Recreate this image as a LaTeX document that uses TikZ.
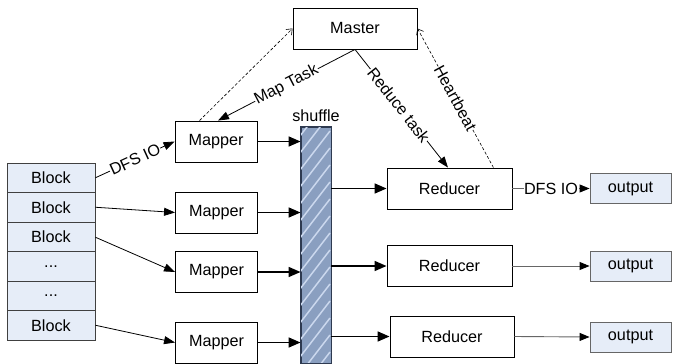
\documentclass[tikz,border=0pt]{standalone}
\usepackage{fontspec}
\setmainfont{Liberation Sans}
\usetikzlibrary{arrows.meta}
\definecolor{boxfill}{HTML}{E6EDF8}
\definecolor{shufbase}{HTML}{8A9FC0}
\definecolor{shufstripe}{HTML}{CBD8EE}
\definecolor{shufedge}{HTML}{2E3A50}
\tikzset{
  txt/.style={font=\fontsize{16.2}{19}\selectfont},
  procbox/.style={draw=black, line width=0.9pt, fill=white, txt, inner sep=0pt},
  blockcell/.style={draw=black!75, line width=0.9pt, fill=boxfill, txt, inner sep=0pt, minimum width=88pt, minimum height=29.5pt},
  outbox/.style={draw=black!60, line width=0.9pt, fill=boxfill, txt, inner sep=0pt, minimum width=81pt, minimum height=30pt},
  thickarr/.style={line width=1.6pt, -{Triangle[length=12pt,width=10pt]}},
  thinarr/.style={line width=0.8pt, -{Triangle[length=11pt,width=8pt]}},
  greyarr/.style={draw=black!60, line width=0.9pt, -{Triangle[length=10pt,width=8pt,fill=black,color=black]}},
  dasharr/.style={dashed, dash pattern=on 3pt off 2pt, line width=0.6pt, -{Straight Barb[length=5pt,width=8pt]}},
  lbl/.style={txt, fill=white, inner sep=0.5pt, sloped},
}
\begin{document}
\begin{tikzpicture}[x=1pt,y=-1pt]
\useasboundingbox (0,0) rectangle (675,364);
% master
\node[procbox, minimum width=124pt, minimum height=41pt] (master) at (355,28.5) {Master};
% mappers
\node[procbox, minimum width=82pt, minimum height=41pt] (m1) at (216,141.5) {Mapper};
\node[procbox, minimum width=82pt, minimum height=41pt] (m2) at (216.5,212.5) {Mapper};
\node[procbox, minimum width=82pt, minimum height=41pt] (m3) at (216.5,272) {Mapper};
\node[procbox, minimum width=82pt, minimum height=41pt] (m4) at (216.5,342.5) {Mapper};
% reducers
\node[procbox, minimum width=125pt, minimum height=41pt] (r1) at (449.5,188.5) {Reducer};
\node[procbox, minimum width=125pt, minimum height=41pt] (r2) at (449.5,266) {Reducer};
\node[procbox, minimum width=124pt, minimum height=41pt] (r3) at (452,336.5) {Reducer};
% outputs
\node[outbox] (o1) at (630.5,188.5) {output};
\node[outbox] (o2) at (630.5,266) {output};
\node[outbox] (o3) at (630.5,337) {output};
% blocks
\node[blockcell] (b1) at (51,177.75) {Block};
\node[blockcell] (b2) at (51,207.25) {Block};
\node[blockcell] (b3) at (51,236.75) {Block};
\node[blockcell] (b4) at (51,266.25) {...};
\node[blockcell] (b5) at (51,295.75) {...};
\node[blockcell] (b6) at (51,325.25) {Block};
% shuffle bar
\node[draw=shufedge, line width=0.9pt, fill=shufbase, minimum width=30pt, minimum height=236pt, inner sep=0pt] (sh) at (316,245) {};
\begin{scope}
  \clip (sh.north west) rectangle (sh.south east);
  \foreach \k in {0,...,18} {
    \draw[shufstripe, line width=1.5pt] (290,132+\k*17) -- ++(40,-52);
  }
\end{scope}
\draw[shufedge, line width=0.9pt] (sh.north west) rectangle (sh.south east);
\node[txt, above=1pt] (shl) at (sh.north) {shuffle};
% block -> mapper
\draw[thinarr] (b1.east) -- node[lbl] {DFS IO} (m1.west);
\draw[thinarr] (b2.east) -- (m2.west);
\draw[thinarr] ([yshift=-0.5pt]b3.east) -- (m3.west);
\draw[thinarr] (b6.east) -- (m4.west);
% mapper -> shuffle
\draw[thickarr] (m1.east) -- (m1.east -| sh.west);
\draw[thickarr] (m2.east) -- (m2.east -| sh.west);
\draw[thickarr] (m3.east) -- (m3.east -| sh.west);
\draw[thickarr] (m4.east) -- (m4.east -| sh.west);
% shuffle -> reducer
\draw[thickarr] (r1.west -| sh.east) -- (r1.west);
\draw[thickarr] (r2.west -| sh.east) -- (r2.west);
\draw[thickarr] (r3.west -| sh.east) -- (r3.west);
% reducer -> output
\draw[greyarr] (r1.east) -- node[txt, fill=white, inner sep=0.5pt] {DFS IO} (o1.west);
\draw[greyarr] (r2.east) -- (o2.west);
\draw[greyarr] (r3.east) -- (o3.west);
% master tasks
\draw[thinarr] (master.south) -- node[lbl] {Map Task} ([xshift=2pt]m1.north);
\draw[thinarr] (master.south) -- node[lbl, pos=0.47] {Reduce task} ([xshift=-1.5pt]r1.north);
% dashed
\coordinate (m1d) at ([xshift=25pt]m1.north west);
\coordinate (r1d) at ([xshift=-19pt]r1.north east);
\draw[dasharr] (m1d) -- (master.west);
\draw[dasharr] (r1d) -- node[lbl, inner sep=0.3pt] {Heartbeat} (master.east);
\end{tikzpicture}
\end{document}
